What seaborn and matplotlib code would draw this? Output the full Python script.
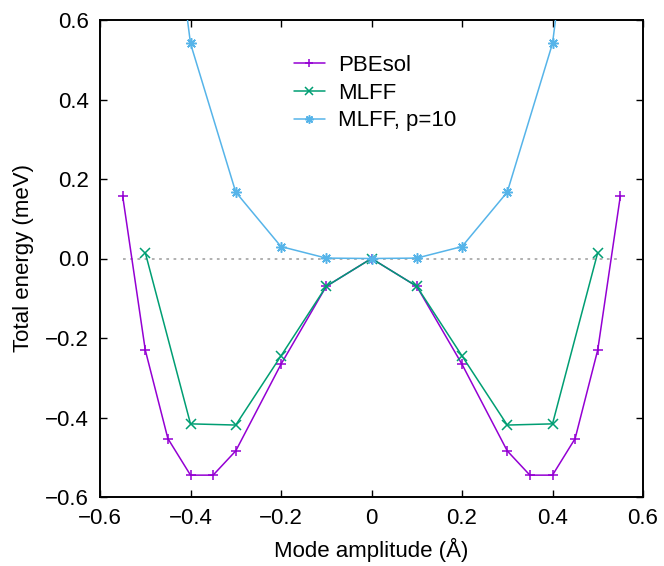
import numpy as np
import pandas as pd
import matplotlib
matplotlib.use("Agg")
import matplotlib.pyplot as plt
import seaborn as sns

# ---- data ----
x_pbesol = [-0.55, -0.5, -0.45, -0.4, -0.35, -0.3, -0.2, -0.1, 0.0,
            0.1, 0.2, 0.3, 0.35, 0.4, 0.45, 0.5, 0.55]
y_pbesol = [0.158, -0.230, -0.453, -0.545, -0.545, -0.484, -0.266, -0.070, 0.0,
            -0.070, -0.266, -0.484, -0.545, -0.545, -0.453, -0.230, 0.158]

x_mlff = [-0.5, -0.4, -0.3, -0.2, -0.1, 0.0, 0.1, 0.2, 0.3, 0.4, 0.5]
y_mlff = [0.015, -0.416, -0.419, -0.245, -0.070, 0.0, -0.070, -0.245, -0.419, -0.416, 0.015]

x_mlff_p10 = [-0.5, -0.4, -0.3, -0.2, -0.1, 0.0, 0.1, 0.2, 0.3, 0.4, 0.5]
y_mlff_p10 = [1.43, 0.541, 0.167, 0.030, 0.001, 0.0, 0.001, 0.030, 0.167, 0.541, 1.43]

series_names = ["PBEsol", "MLFF", "MLFF, p=10"]
series_colors = ["#9400D3", "#009E73", "#56B4E9"]
series_markers = ["+", "x", (8, 2, 0)]

x_ticks = [-0.6, -0.4, -0.2, 0.0, 0.2, 0.4, 0.6]
x_ticklabels = ["\u22120.6", "\u22120.4", "\u22120.2", "0", "0.2", "0.4", "0.6"]
y_ticks = [-0.6, -0.4, -0.2, 0.0, 0.2, 0.4, 0.6]
y_ticklabels = ["\u22120.6", "\u22120.4", "\u22120.2", "0.0", "0.2", "0.4", "0.6"]

sns.set_theme(style="ticks")
plt.rcParams["font.family"] = ["Liberation Sans", "DejaVu Sans"]
plt.rcParams["text.color"] = "black"
plt.rcParams["axes.labelcolor"] = "black"

fig = plt.figure(figsize=(6.64, 5.66), dpi=100)
ax = fig.add_axes([100 / 664, 1 - 497 / 566, 543 / 664, 477 / 566])

ax.hlines(0, -0.55, 0.55, colors="#aaaaaa", linestyles=(0, (1.5, 2.5)), linewidth=1.3, zorder=1)

marker_sizes = [7.5, 6.5, 7.5]
for xs, ys, name, col, mk, ms in zip([x_pbesol, x_mlff, x_mlff_p10],
                                     [y_pbesol, y_mlff, y_mlff_p10],
                                     series_names, series_colors, series_markers,
                                     marker_sizes):
    df = pd.DataFrame({"x": xs, "y": ys})
    sns.lineplot(data=df, x="x", y="y", ax=ax, color=col, marker=mk, markersize=ms,
                 markeredgewidth=1.1, markeredgecolor=col, markerfacecolor=col,
                 linewidth=1.1, label=name, sort=False,
                 estimator=None, zorder=3)

ax.set_xlim(-0.6, 0.6)
ax.set_ylim(-0.6, 0.6)
ax.set_xticks(x_ticks)
ax.set_xticklabels(x_ticklabels)
ax.set_yticks(y_ticks)
ax.set_yticklabels(y_ticklabels)
ax.tick_params(direction="in", length=5, width=1.0, top=True, right=True,
               labelsize=16, pad=8, colors="black")
for s in ax.spines.values():
    s.set_linewidth(1.4)
    s.set_color("black")
    s.set_visible(True)

ax.set_xlabel("Mode amplitude (\u00c5)", fontsize=16, labelpad=6, color="black")
ax.set_ylabel("Total energy (meV)", fontsize=16, labelpad=8, color="black")

leg = ax.legend(loc="upper left", bbox_to_anchor=(0.34, 0.945), frameon=False,
                fontsize=16, handlelength=1.4, handletextpad=0.6, labelspacing=0.3,
                borderaxespad=0, markerscale=0.8)
for t in leg.get_texts():
    t.set_color("black")

fig.savefig("out.png", dpi=100)
